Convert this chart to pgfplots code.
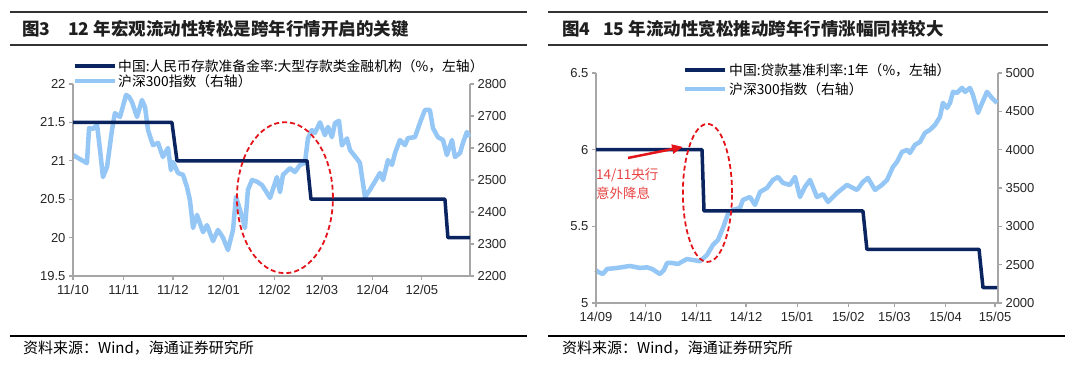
\documentclass[border=0pt]{standalone}
\usepackage{fontspec}
\usepackage{pgfplots}
\pgfplotsset{compat=1.18}
\usetikzlibrary{arrows.meta}
\setmainfont{Liberation Sans}
\newfontfamily\cjk{Noto Sans CJK SC}
\definecolor{navy}{HTML}{0A2460}
\definecolor{lblue}{HTML}{94C6F6}
\definecolor{axgray}{HTML}{A6A6A6}
\definecolor{dred}{HTML}{E3151B}
\definecolor{tred}{HTML}{E84545}
\pgfplotsset{myax/.style={scale only axis, anchor=south west, clip=false,
  axis line style={axgray, line width=1.5pt}, tick style={axgray, line width=1.2pt},
  major tick length=4pt, tick align=outside,
  ticklabel style={font=\fontsize{13}{15}\selectfont, text=black!85},
  xticklabel style={yshift=-1.5pt},
  /pgf/number format/1000 sep={}, /pgf/number format/assume math mode=true}}
\begin{document}
\begin{tikzpicture}[x=1pt,y=1pt]
\path[use as bounding box, fill=white] (0,0) rectangle (1080,370);
% ---------------- left panel -----------------
\begin{axis}[myax, at={(73pt,94pt)}, width=397pt, height=192pt,
  xmin=0, xmax=242.4, ymin=2200, ymax=2800, ytick={2200,2300,...,2800},
  axis y line*=right, axis x line=none]
\addplot[lblue, line width=4.5pt, line join=round] coordinates {
(0,2578)(4.3,2565)(8.5,2553)(9.8,2662)(12.2,2660)(14.7,2672)(16.5,2594)(18.3,2509)(20.8,2541)
(23.8,2656)(25.6,2709)(28.7,2697)(32.4,2766)(34.2,2760)(36.0,2744)(39.1,2697)(42.1,2750)
(44.0,2728)(45.8,2656)(48.8,2609)(51.9,2616)(54.9,2572)(58.0,2600)(59.8,2531)(61.1,2556)
(64.1,2522)(67.2,2516)(69.6,2478)(71.4,2437)(73.3,2350)(75.7,2391)(79.4,2337)(81.8,2359)
(85.5,2309)(88.5,2344)(91.6,2320)(94.6,2281)(97.7,2344)(99.5,2447)(102.0,2406)(103.8,2375)
(105.0,2350)(106.8,2469)(109.3,2500)(112.3,2495)(115.4,2484)(117.8,2465)(120.3,2444)
(124.5,2509)(126.4,2462)(128.2,2516)(132.5,2537)(135.5,2525)(138.6,2547)(141.6,2553)
(143.5,2631)(145.9,2656)(147.7,2647)(150.8,2680)(153.8,2640)(155.7,2666)(158.1,2634)
(160.0,2678)(162.4,2685)(164.2,2608)(167.3,2630)(169.1,2594)(174.0,2562)(175.2,2553)
(178.3,2447)(181.3,2469)(185.6,2506)(187.4,2522)(189.3,2500)(192.3,2562)(194.8,2547)
(196.6,2584)(199.6,2625)(202.7,2609)(204.5,2631)(208.8,2634)(211.8,2678)(214.9,2719)
(217.9,2719)(219.8,2662)(222.8,2634)(225.9,2625)(228.3,2578)(231.4,2625)(233.2,2572)
(236.3,2584)(238.1,2616)(240.5,2650)(241.8,2634)};
\end{axis}
\begin{axis}[myax, at={(73pt,94pt)}, width=397pt, height=192pt,
  xmin=0, xmax=242.4, ymin=19.5, ymax=22, ytick={19.5,20,20.5,21,21.5,22},
  axis y line*=left, axis x line*=bottom,
  xtick={0,31,61,92,123,152,183,213},
  xticklabels={11/10,11/11,11/12,12/01,12/02,12/03,12/04,12/05}]
\addplot[navy, line width=3.5pt, line join=round] coordinates {
(0,21.5)(60.4,21.5)(63.5,21)(142.9,21)(145.3,20.5)(227.1,20.5)(228.9,20)(242.4,20)};
\draw[dred, line width=1.8pt, dash pattern=on 5pt off 3pt] (axis cs:129.4,20.52) ellipse [x radius=29.3, y radius=0.983];
\end{axis}
\draw[navy, line width=3.5pt] (75,304) -- (115,304);
\draw[lblue, line width=4.5pt] (75,289) -- (115,289);
\node[anchor=west, inner sep=0] at (118,304) {\cjk\fontsize{13.8}{15}\selectfont 中国:人民币存款准备金率:大型存款类金融机构（\%，左轴）};
\node[anchor=west, inner sep=0] at (118,289) {\cjk\fontsize{13.8}{15}\selectfont 沪深300指数（右轴）};
\draw[line width=2.5pt, black!80] (10,358) -- (527,358);
\draw[line width=2pt, black!80] (10,325) -- (527,325);
\draw[line width=1.5pt, black] (10,34) -- (527,34);
\node[anchor=west, inner sep=0, text=black!88] at (22,341) {\cjk\bfseries\fontsize{17.5}{19}\selectfont 图3};
\node[anchor=west, inner sep=0, text=black!88] at (68,341) {\cjk\bfseries\fontsize{17.5}{19}\selectfont 12 年宏观流动性转松是跨年行情开启的关键};
\node[anchor=west, inner sep=0] at (23,22) {\cjk\fontsize{15}{17}\selectfont 资料来源：Wind，海通证券研究所};
% ---------------- right panel -----------------
\begin{axis}[myax, at={(596pt,67pt)}, width=402pt, height=230pt,
  xmin=0, xmax=243.8, ymin=2000, ymax=5000, ytick={2000,2500,...,5000},
  axis y line*=right, axis x line=none]
\addplot[lblue, line width=4.5pt, line join=round] coordinates {
(0,2431)(1.2,2405)(4.2,2378)(6.7,2444)(12.7,2457)(20.6,2483)(26.7,2457)(30.9,2465)(34.0,2444)
(38.8,2378)(41.2,2430)(43.1,2522)(46.1,2522)(49.7,2509)(55.2,2574)(58.8,2561)(63.1,2545)
(67.3,2626)(71.0,2760)(74.0,2822)(77.0,2980)(80.0,3160)(83.1,3214)(87.3,3240)(89.1,3344)
(93.4,3383)(96.4,3279)(99.5,3449)(103.7,3501)(107.3,3605)(110.4,3644)(113.4,3566)
(117.6,3540)(120.7,3644)(123.7,3383)(126.7,3514)(129.8,3605)(134.0,3383)(137.7,3420)
(140.7,3318)(146.2,3436)(152.2,3540)(158.3,3475)(161.9,3579)(164.9,3631)(169.2,3475)
(173.4,3540)(176.5,3605)(180.1,3775)(182.5,3840)(185.6,3971)(188.6,3997)(190.4,3958)
(193.4,4062)(196.5,4101)(199.5,4219)(202.5,4258)(205.6,4323)(208.6,4427)(210.4,4610)
(212.9,4545)(214.7,4610)(216.5,4754)(218.9,4740)(222.0,4806)(223.8,4754)(226.8,4806)
(228.6,4714)(231.7,4480)(232.9,4545)(237.1,4754)(240.1,4675)(243.2,4610)};
\end{axis}
\begin{axis}[myax, at={(596pt,67pt)}, width=402pt, height=230pt,
  xmin=0, xmax=243.8, ymin=5, ymax=6.5, ytick={5,5.5,6,6.5},
  axis y line*=left, axis x line*=bottom,
  xtick={0,30,61,91,122,153,181,212,242},
  xticklabels={14/09,14/10,14/11,14/12,15/01,15/02,15/03,15/04,15/05}]
\addplot[navy, line width=3.5pt, line join=round] coordinates {
(0,6)(64.3,6)(65.5,5.6)(161.9,5.6)(164.3,5.35)(232.3,5.35)(234.7,5.1)(243.2,5.1)};
\draw[dred, line width=1.8pt, dash pattern=on 5pt off 3pt] (axis cs:67.6,5.718) ellipse [x radius=14.9, y radius=0.45];
\draw[dred, line width=2.5pt, -{Triangle[length=11pt,width=9pt]}] (axis cs:19.4,5.946) -- (axis cs:52.8,6.018);
\node[anchor=west, inner sep=0, text=tred] at (axis cs:0,5.835) {\cjk\fontsize{13.5}{15}\selectfont 14/11央行};
\node[anchor=west, inner sep=0, text=tred] at (axis cs:0,5.718) {\cjk\fontsize{13.5}{15}\selectfont 意外降息};
\end{axis}
\draw[navy, line width=3.5pt] (685,300) -- (725,300);
\draw[lblue, line width=4.5pt] (685,281) -- (725,281);
\node[anchor=west, inner sep=0] at (729,300) {\cjk\fontsize{13.8}{15}\selectfont 中国:贷款基准利率:1年（\%，左轴）};
\node[anchor=west, inner sep=0] at (729,281) {\cjk\fontsize{13.8}{15}\selectfont 沪深300指数（右轴）};
\draw[line width=2.5pt, black!80] (548,358) -- (1048,358);
\draw[line width=2pt, black!80] (548,325) -- (1048,325);
\draw[line width=1.5pt, black] (548,34) -- (1065,34);
\node[anchor=west, inner sep=0, text=black!88] at (562,341) {\cjk\bfseries\fontsize{17.5}{19}\selectfont 图4};
\node[anchor=west, inner sep=0, text=black!88] at (603,341) {\cjk\bfseries\fontsize{17.5}{19}\selectfont 15 年流动性宽松推动跨年行情涨幅同样较大};
\node[anchor=west, inner sep=0] at (562,22) {\cjk\fontsize{15}{17}\selectfont 资料来源：Wind，海通证券研究所};
\end{tikzpicture}
\end{document}
